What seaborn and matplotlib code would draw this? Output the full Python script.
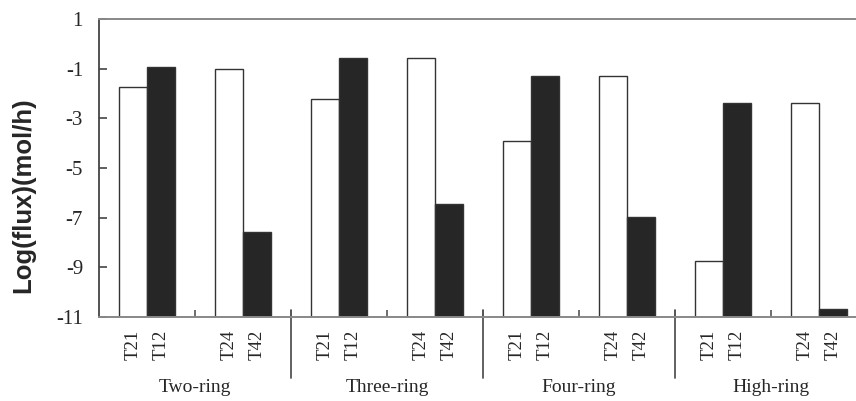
import numpy as np
import pandas as pd
import matplotlib
matplotlib.use("Agg")
import matplotlib.pyplot as plt
import matplotlib.transforms as mtransforms
import seaborn as sns

# ---------------- data ----------------
groups = ["Two-ring", "Three-ring", "Four-ring", "High-ring"]
t21 = [-1.75, -2.21, -3.93, -8.76]
t12 = [-0.95, -0.58, -1.31, -2.37]
t24 = [-1.01, -0.58, -1.31, -2.37]
t42 = [-7.59, -6.46, -6.96, -10.67]
y_ticks = [1, -1, -3, -5, -7, -9, -11]
y_label = "Log(flux)(mol/h)"
BASE = -11

# build long table: each group has two slots (T21/T12) and (T24/T42)
rows = []
slots = []
for i, g in enumerate(groups):
    sa, sb = f"{g}-a", f"{g}-b"
    slots += [sa, sb]
    rows.append(dict(slot=sa, series="open", label="T21", value=t21[i]))
    rows.append(dict(slot=sa, series="filled", label="T12", value=t12[i]))
    rows.append(dict(slot=sb, series="open", label="T24", value=t24[i]))
    rows.append(dict(slot=sb, series="filled", label="T42", value=t42[i]))
df = pd.DataFrame(rows)
df["height"] = df["value"] - BASE
hue_order = ["open", "filled"]

# ---------------- plot ----------------
sns.set_style("white")
plt.rcParams["font.family"] = ["Liberation Serif", "DejaVu Serif"]

W, H = 856, 401
fig = plt.figure(figsize=(W / 100, H / 100), dpi=100)
ax_l, ax_r, ax_t, ax_b = 99, 867, 19, 317
ax = fig.add_axes([ax_l / W, 1 - ax_b / H, (ax_r - ax_l) / W, (ax_b - ax_t) / H])

sns.barplot(
    data=df, x="slot", y="height", hue="series", order=slots, hue_order=hue_order,
    palette={"open": "white", "filled": "#262626"}, saturation=1,
    width=0.573, bottom=BASE, edgecolor="#333333", linewidth=1.0,
    legend=False, ax=ax,
)

ax.set_xlim(-0.5, len(slots) - 0.5)
ax.set_ylim(BASE, 1)
ax.set_yticks(y_ticks)
ax.set_yticklabels([str(v) for v in y_ticks])
ax.tick_params(axis="y", direction="in", length=6, width=1.2, color="#444444",
               pad=11.5, labelsize=15, left=True)
for lab in ax.get_yticklabels():
    lab.set_fontfamily(["Liberation Serif", "DejaVu Serif"])

# bar labels at bar centres (minor ticks), boundaries as small inward major ticks
centers, labels = [], []
for cont, ser in zip(ax.containers, hue_order):
    for bar, slot in zip(cont, slots):
        lab = df[(df.slot == slot) & (df.series == ser)]["label"].iloc[0]
        centers.append(bar.get_x() + bar.get_width() / 2)
        labels.append(lab)
ax.set_xticks(np.arange(0.5, len(slots) - 1, 1.0))
ax.set_xticklabels([])
ax.tick_params(axis="x", which="major", direction="in", length=5, width=1.2,
               color="#555555", bottom=True)
ax.set_xticks(centers, minor=True)
ax.set_xticklabels(labels, minor=True, rotation=90, fontsize=13.5)
ax.tick_params(axis="x", which="minor", length=0, pad=9)
ax.set_xlabel("")

# ylabel
ax.set_ylabel(y_label, fontsize=18.5, fontweight="bold",
              fontfamily=["Liberation Sans", "DejaVu Sans"])
ax.yaxis.set_label_coords((23 - ax_l) / (ax_r - ax_l), (ax_b - 195) / (ax_b - ax_t))
ax.yaxis.label.set_verticalalignment("center")

# group separators and group names
trans = mtransforms.blended_transform_factory(ax.transData, ax.transAxes)
hpx = ax_b - ax_t
for k in range(1, len(groups)):
    xb = 2 * k - 0.5
    ax.plot([xb, xb], [7 / hpx, -61 / hpx], transform=trans, clip_on=False,
            color="#555555", lw=1.3)
for i, g in enumerate(groups):
    ax.text(2 * i + 0.5, -(392 - ax_b) / hpx, g, transform=trans, ha="center",
            va="baseline", fontsize=14)

# spines
for s in ["top", "bottom"]:
    ax.spines[s].set_color("#888888")
    ax.spines[s].set_linewidth(1.4)
ax.spines["left"].set_color("#444444")
ax.spines["left"].set_linewidth(1.3)
ax.spines["right"].set_visible(False)

fig.savefig("out.png", dpi=100)
